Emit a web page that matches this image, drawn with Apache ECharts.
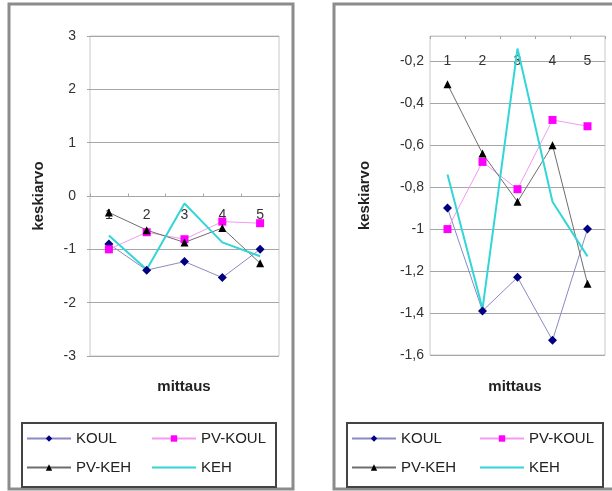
<!DOCTYPE html>
<html>
<head>
<meta charset="utf-8">
<script src="https://cdn.jsdelivr.net/npm/echarts@6/dist/echarts.min.js"></script>
<style>
  html, body { margin: 0; padding: 0; background: #fff; }
  #chart { width: 612px; height: 491px; }
</style>
</head>
<body>
<div id="chart"></div>
<script>
const categories = ['1', '2', '3', '4', '5']
const koul = [-0.90, -1.39, -1.23, -1.53, -1.00]
const pvKoul = [-1.00, -0.68, -0.81, -0.48, -0.51]
const pvKeh = [-0.31, -0.64, -0.87, -0.60, -1.26]
const keh = [-0.74, -1.38, -0.14, -0.87, -1.13]

const yTitle = 'keskiarvo'
const xTitle = 'mittaus'

const font = 'Liberation Sans, Arial, sans-serif'
const gridColor = '#a6a6a6'

const chart = echarts.init(document.getElementById('chart'))

const commaFmt = v => String(Math.round(v * 10) / 10).replace('.', ',')

const makeSeries = (gridIdx) => [
  {
    name: 'KOUL', type: 'line', data: koul,
    xAxisIndex: gridIdx, yAxisIndex: gridIdx,
    symbol: 'diamond', symbolSize: 9,
    itemStyle: { color: '#000080' },
    lineStyle: { color: '#8a8ac4', width: 1 }
  },
  {
    name: 'PV-KOUL', type: 'line', data: pvKoul,
    xAxisIndex: gridIdx, yAxisIndex: gridIdx,
    symbol: 'rect', symbolSize: 8,
    itemStyle: { color: '#ff00ff' },
    lineStyle: { color: '#f39af3', width: 1 }
  },
  {
    name: 'PV-KEH', type: 'line', data: pvKeh,
    xAxisIndex: gridIdx, yAxisIndex: gridIdx,
    symbol: 'triangle', symbolSize: 8,
    itemStyle: { color: '#000000' },
    lineStyle: { color: '#6e6e6e', width: 1 }
  },
  {
    name: 'KEH', type: 'line', data: keh,
    xAxisIndex: gridIdx, yAxisIndex: gridIdx,
    symbol: 'none',
    itemStyle: { color: '#33d6d6' },
    lineStyle: { color: '#33d6d6', width: 2 }
  }
]

const legendBase = {
  orient: 'vertical',
  itemWidth: 44,
  itemHeight: 8,
  itemGap: 14,
  padding: 0,
  top: 431,
  textStyle: { fontFamily: font, fontSize: 15, color: '#222' },
  selectedMode: false
}
const col1 = ['KOUL', 'PV-KEH']
const col2 = ['PV-KOUL', { name: 'KEH', itemStyle: { color: 'transparent', borderWidth: 0, opacity: 0 } }]

chart.setOption({
  animation: false,
  backgroundColor: '#fff',
  grid: [
    { left: 90, top: 36, width: 189, height: 320, show: true, borderColor: '#c8c8c8', borderWidth: 1 },
    { left: 430, top: 36, width: 175, height: 319, show: true, borderColor: '#c8c8c8', borderWidth: 1 },
    // upper half of the left plot: its bottom edge is the zero line, where the category axis sits
    { left: 90, top: 36, width: 189, height: 160.5 }
  ],
  xAxis: [
    {
      gridIndex: 0, type: 'category', data: categories, boundaryGap: true,
      axisLine: { show: false }, axisTick: { show: false }, axisLabel: { show: false }
    },
    {
      gridIndex: 1, type: 'category', data: categories, boundaryGap: true, position: 'top',
      axisLine: { onZero: false, lineStyle: { color: '#c8c8c8' } },
      axisTick: { show: true, length: 3, inside: true, lineStyle: { color: gridColor } },
      axisLabel: { inside: true, margin: 18, fontFamily: font, fontSize: 14, color: '#333' }
    },
    {
      gridIndex: 2, type: 'category', data: categories, boundaryGap: true,
      axisLine: { onZero: false, lineStyle: { color: gridColor } },
      axisTick: { show: true, length: 3, inside: true, lineStyle: { color: gridColor } },
      axisLabel: { margin: 12, fontFamily: font, fontSize: 14, color: '#333' }
    }
  ],
  yAxis: [
    {
      gridIndex: 0, type: 'value', min: -3, max: 3, interval: 1,
      name: yTitle, nameLocation: 'middle', nameGap: 44,
      nameTextStyle: { fontFamily: font, fontSize: 15, fontWeight: 'bold', color: '#222' },
      axisLine: { show: false },
      axisTick: { show: true, length: 3, lineStyle: { color: gridColor } },
      axisLabel: { margin: 14, fontFamily: font, fontSize: 14, color: '#333' },
      splitLine: { lineStyle: { color: gridColor } }
    },
    {
      gridIndex: 1, type: 'value', min: -1.6, max: -0.08, interval: 0.2,
      name: yTitle, nameLocation: 'middle', nameGap: 58,
      nameTextStyle: { fontFamily: font, fontSize: 15, fontWeight: 'bold', color: '#222' },
      axisLine: { show: false },
      axisTick: { show: false },
      axisLabel: { margin: 6, fontFamily: font, fontSize: 14, color: '#333', showMaxLabel: false, formatter: commaFmt },
      splitLine: { lineStyle: { color: gridColor } }
    },
    {
      gridIndex: 2, type: 'value', min: 0, max: 3, show: false
    }
  ],
  legend: [
    Object.assign({}, legendBase, { left: 26, data: col1 }),
    Object.assign({}, legendBase, { left: 151, data: col2 }),
    Object.assign({}, legendBase, { left: 351, data: col1 }),
    Object.assign({}, legendBase, { left: 479, data: col2 })
  ],
  graphic: [
    { type: 'rect', shape: { x: 9, y: 4, width: 284, height: 485 }, style: { fill: 'none', stroke: '#8c8c8c', lineWidth: 3 }, z: 100 },
    { type: 'rect', shape: { x: 334, y: 4, width: 290, height: 485 }, style: { fill: 'none', stroke: '#8c8c8c', lineWidth: 3 }, z: 100 },
    { type: 'rect', shape: { x: 22, y: 423, width: 254, height: 64 }, style: { fill: 'none', stroke: '#444', lineWidth: 2 }, z: 100 },
    { type: 'rect', shape: { x: 347, y: 423, width: 256, height: 64 }, style: { fill: 'none', stroke: '#444', lineWidth: 2 }, z: 100 },
    { type: 'text', x: 184, y: 387, style: { text: xTitle, font: 'bold 15px ' + font, fill: '#222', textAlign: 'center', textVerticalAlign: 'middle' } },
    { type: 'text', x: 515, y: 387, style: { text: xTitle, font: 'bold 15px ' + font, fill: '#222', textAlign: 'center', textVerticalAlign: 'middle' } }
  ],
  series: makeSeries(0).concat(makeSeries(1))
})
</script>
</body>
</html>
